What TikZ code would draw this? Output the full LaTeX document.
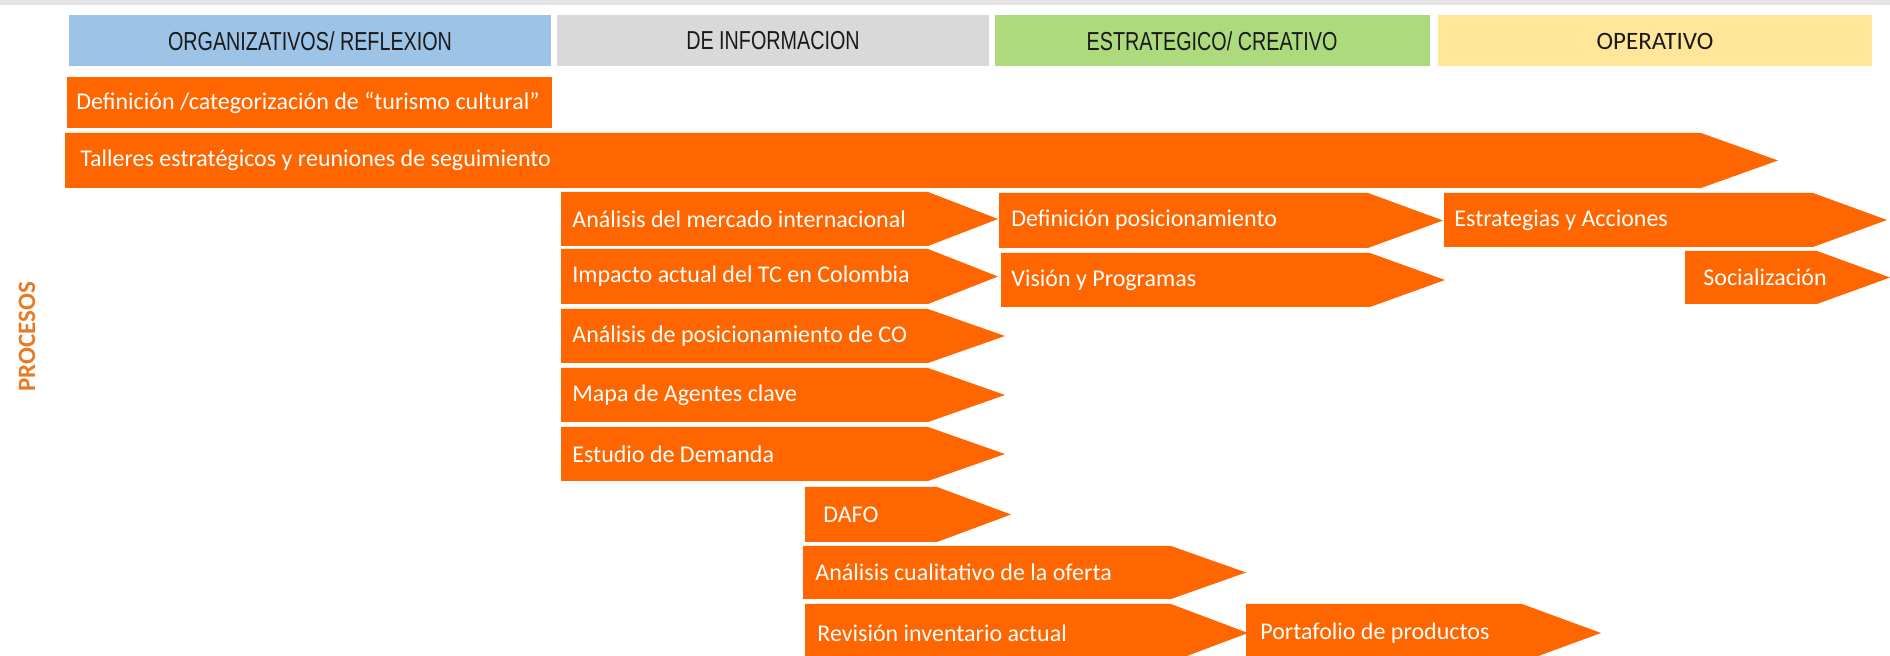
\documentclass[tikz,border=0pt]{standalone}
\usepackage{fontspec}
\setmainfont{Carlito}
\newfontfamily\hdrfont[FakeStretch=0.76]{Liberation Sans}
\definecolor{arrowor}{HTML}{FF6600}
\definecolor{hblue}{HTML}{9DC3E6}
\definecolor{hgray}{HTML}{D9D9D9}
\definecolor{hgreen}{HTML}{AEDA7E}
\definecolor{hyellow}{HTML}{FFE699}
\definecolor{proclabel}{HTML}{E97A24}
\definecolor{topbar}{HTML}{E4E4E4}
\definecolor{hdrtext}{HTML}{1A1A1A}
\tikzset{
  hdrbox/.style={draw=white, line width=0.6pt},
  hdrlabel/.style={text=hdrtext, font=\hdrfont\fontsize{13}{15}\selectfont, inner sep=0pt},
  hdrlabelc/.style={text=hdrtext, font=\fontsize{12.5}{14}\selectfont, inner sep=0pt},
  proctext/.style={text=white, font=\fontsize{12}{14}\selectfont, inner sep=0pt, anchor=west},
  arrowshape/.style={fill=arrowor},
}
% #1 name, #2 x0, #3 ytop, #4 ybot, #5 shaft end, #6 tip, #7 pad, #8 text
\newcommand{\procarrow}[8]{%
  \fill[arrowshape] (#2,#3) -- (#5,#3) -- (#6,{(#3+#4)/2}) -- (#5,#4) -- (#2,#4) -- cycle;
  \node[proctext] (#1) at ({#2+#7},{(#3+#4)/2}) {#8};
}
\begin{document}
\begin{tikzpicture}[x=0.5pt,y=-0.5pt]
\clip (0,0) rectangle (1890,656);
\fill[white] (0,0) rectangle (1890,656);
\fill[topbar] (0,0) rectangle (1890,5);
% headers
\filldraw[hdrbox, fill=hblue] (68,14) rectangle (552,67);
\node[hdrlabel] (h1) at (310,41) {ORGANIZATIVOS/ REFLEXION};
\filldraw[hdrbox, fill=hgray] (556,14) rectangle (990,67);
\node[hdrlabel] (h2) at (773,41) {DE INFORMACION};
\filldraw[hdrbox, fill=hgreen] (994,14) rectangle (1431,67);
\node[hdrlabel] (h3) at (1212,41) {ESTRATEGICO/ CREATIVO};
\filldraw[hdrbox, fill=hyellow] (1437,14) rectangle (1873,67);
\node[hdrlabelc] (h4) at (1655,41) {OPERATIVO};
% side label
\node[rotate=90, text=proclabel, font=\bfseries\fontsize{12.5}{15}\selectfont, inner sep=0pt] (procesos) at (27,337) {PROCESOS};
% definition box
\fill[arrowshape] (67,77) rectangle (552,128);
\node[proctext] (def) at (76,102.5) {Definición /categorización de “turismo cultural”};
% arrows
\procarrow{talleres}{65}{133}{188}{1701}{1778}{15}{Talleres estratégicos y reuniones de seguimiento}
\procarrow{mercado}{561}{192}{246}{928}{998}{11}{Análisis del mercado internacional}
\procarrow{impacto}{561}{249}{304}{928}{998}{11}{Impacto actual del TC en Colombia}
\procarrow{posic}{561}{309}{363}{928}{1005}{11}{Análisis de posicionamiento de CO}
\procarrow{mapa}{561}{368}{422}{928}{1005}{11}{Mapa de Agentes clave}
\procarrow{estudio}{561}{427}{481}{928}{1005}{11}{Estudio de Demanda}
\procarrow{dafo}{805}{487}{542}{937}{1011}{18}{DAFO}
\procarrow{cualit}{803}{546}{599}{1171}{1246}{12}{Análisis cualitativo de la oferta}
\procarrow{revision}{805}{604}{662}{1171}{1248}{12}{Revisión inventario actual}
\procarrow{portafolio}{1246}{604}{662}{1522}{1601}{14}{Portafolio de productos}
\procarrow{defpos}{999}{193}{248}{1368}{1443}{12}{Definición posicionamiento}
\procarrow{vision}{1001}{253}{307}{1370}{1445}{10}{Visión y Programas}
\procarrow{estrat}{1444}{193}{247}{1813}{1887}{10}{Estrategias y Acciones}
\procarrow{social}{1685}{251}{304}{1817}{1890}{18}{Socialización}
\end{tikzpicture}
\end{document}
